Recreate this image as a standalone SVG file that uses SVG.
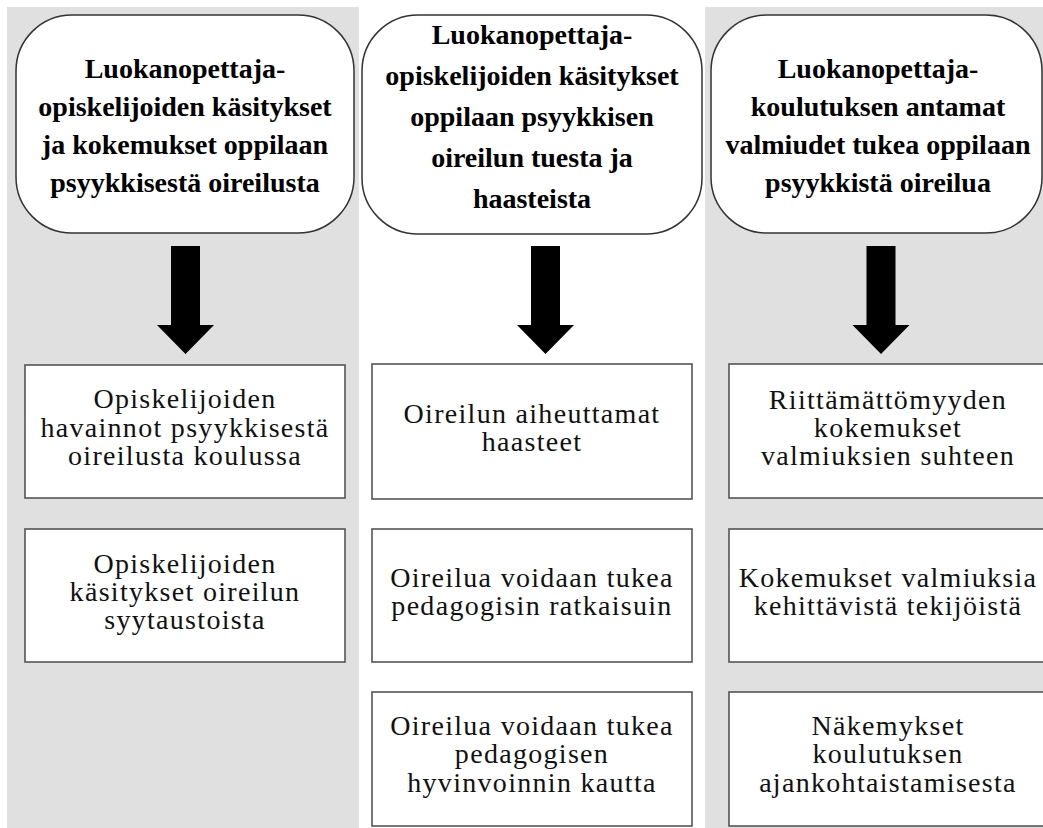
<svg xmlns="http://www.w3.org/2000/svg" width="1043" height="828" viewBox="0 0 1043 828">
<style>
.panel{fill:#e0e0e0;stroke:none}
.head{fill:#ffffff;stroke:#333333;stroke-width:1.5}
.box{fill:#ffffff;stroke:#555555;stroke-width:1.6}
.ht{font-family:"Liberation Serif","Times New Roman",serif;font-weight:bold;font-size:28px;fill:#000000;text-anchor:middle}
.bt{font-family:"Liberation Serif","Times New Roman",serif;font-size:28px;letter-spacing:1.3px;fill:#111111;text-anchor:middle}
.arrow{fill:#000000;stroke:none}
</style>
<rect width="1043" height="828" fill="#ffffff"/>
<rect class="panel" x="7" y="7" width="352" height="821"/>
<rect class="panel" x="705" y="7" width="338" height="821"/>

<g id="connectors">
<polygon class="arrow" points="171,246 200,246 200,325 214,325 185.5,354 157,325 171,325"/>
<polygon class="arrow" points="531,246 560,246 560,325 574,325 545.5,354 517,325 531,325"/>
<polygon class="arrow" points="866.5,246 895.5,246 895.5,325 909.5,325 881,354 852.5,325 866.5,325"/>
</g>

<g id="header1">
<rect class="head" x="16" y="15" width="338" height="218" rx="56" ry="56"/>
<text class="ht"><tspan x="185" y="78">Luokanopettaja-</tspan><tspan x="185" y="116">opiskelijoiden käsitykset</tspan><tspan x="185" y="154">ja kokemukset oppilaan</tspan><tspan x="185" y="192">psyykkisestä oireilusta</tspan></text>
</g>
<g id="header2">
<rect class="head" x="362" y="15" width="340" height="219" rx="56" ry="56"/>
<text class="ht"><tspan x="532" y="44">Luokanopettaja-</tspan><tspan x="532" y="85">opiskelijoiden käsitykset</tspan><tspan x="532" y="126">oppilaan psyykkisen</tspan><tspan x="532" y="167">oireilun tuesta ja</tspan><tspan x="532" y="208">haasteista</tspan></text>
</g>
<g id="header3">
<rect class="head" x="711" y="15" width="331" height="218" rx="56" ry="56"/>
<text class="ht"><tspan x="878" y="78">Luokanopettaja-</tspan><tspan x="878" y="116">koulutuksen antamat</tspan><tspan x="878" y="154">valmiudet tukea oppilaan</tspan><tspan x="878" y="192">psyykkistä oireilua</tspan></text>
</g>

<g id="box1a">
<rect class="box" x="25" y="365" width="320" height="133"/>
<text class="bt"><tspan x="185" y="408">Opiskelijoiden</tspan><tspan x="185" y="437">havainnot psyykkisestä</tspan><tspan x="185" y="465">oireilusta koulussa</tspan></text>
</g>
<g id="box1b">
<rect class="box" x="25" y="529" width="320" height="133"/>
<text class="bt"><tspan x="185" y="573">Opiskelijoiden</tspan><tspan x="185" y="601">käsitykset oireilun</tspan><tspan x="185" y="629">syytaustoista</tspan></text>
</g>

<g id="box2a">
<rect class="box" x="372" y="364" width="320" height="135"/>
<text class="bt"><tspan x="532" y="423">Oireilun aiheuttamat</tspan><tspan x="532" y="451">haasteet</tspan></text>
</g>
<g id="box2b">
<rect class="box" x="372" y="529" width="320" height="133"/>
<text class="bt"><tspan x="532" y="587">Oireilua voidaan tukea</tspan><tspan x="532" y="615">pedagogisin ratkaisuin</tspan></text>
</g>
<g id="box2c">
<rect class="box" x="372" y="692" width="320" height="134"/>
<text class="bt"><tspan x="532" y="735">Oireilua voidaan tukea</tspan><tspan x="532" y="763">pedagogisen</tspan><tspan x="532" y="792">hyvinvoinnin kautta</tspan></text>
</g>

<g id="box3a">
<rect class="box" x="729" y="364" width="318" height="134"/>
<text class="bt"><tspan x="888" y="409">Riittämättömyyden</tspan><tspan x="888" y="437">kokemukset</tspan><tspan x="888" y="465">valmiuksien suhteen</tspan></text>
</g>
<g id="box3b">
<rect class="box" x="729" y="529" width="318" height="133"/>
<text class="bt"><tspan x="888" y="587">Kokemukset valmiuksia</tspan><tspan x="888" y="615">kehittävistä tekijöistä</tspan></text>
</g>
<g id="box3c">
<rect class="box" x="729" y="692" width="318" height="134"/>
<text class="bt"><tspan x="888" y="735">Näkemykset</tspan><tspan x="888" y="763">koulutuksen</tspan><tspan x="888" y="792">ajankohtaistamisesta</tspan></text>
</g>
</svg>
